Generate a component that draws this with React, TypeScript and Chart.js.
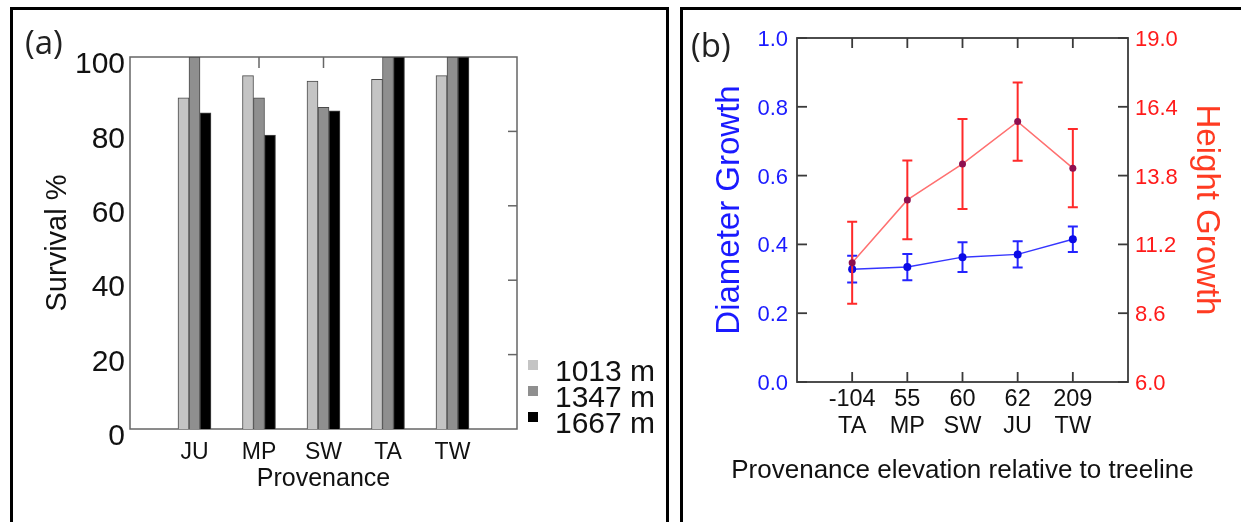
import React, { useEffect, useRef } from "react";
import { Chart, registerables } from "chart.js";
Chart.register(...registerables);

// ---------- Panel (a) data ----------
const provenances = ["JU", "MP", "SW", "TA", "TW"];
const siteLabels = ["1013 m", "1347 m", "1667 m"];
const survival1013 = [89, 95, 93.5, 94, 95];
const survival1347 = [100, 89, 86.5, 100, 100];
const survival1667 = [85, 79, 85.5, 100, 100];
const survivalTicks = [0, 20, 40, 60, 80, 100];

// ---------- Panel (b) data ----------
const elevLabels = ["-104", "55", "60", "62", "209"];
const elevProvenances = ["TA", "MP", "SW", "JU", "TW"];
const diameterGrowth = [0.328, 0.334, 0.363, 0.371, 0.415];
const diameterErr = [0.039, 0.038, 0.043, 0.038, 0.037];
const heightGrowth = [10.51, 12.88, 14.24, 15.84, 14.08];
const heightErr = [1.55, 1.49, 1.7, 1.48, 1.48];
const diameterTicks = [0, 0.2, 0.4, 0.6, 0.8, 1.0];
const heightTicks = [6.0, 8.6, 11.2, 13.8, 16.4, 19.0];

const FONT = "'Liberation Sans', Arial, sans-serif";
const LABEL_FONT = "'Open Sans', 'Liberation Sans', sans-serif";

const pad = (a: any[]) => [null, ...a, null];

const barColors = ["#c4c4c4", "#8f8f8f", "#000000"];

const panelAPlugin = {
  id: "panelA",
  beforeDatasetsDraw(chart: any) {
    const { ctx, chartArea: a, scales } = chart;
    ctx.save();
    ctx.strokeStyle = "#666";
    ctx.lineWidth = 1.5;
    ctx.strokeRect(a.left, a.top, a.right - a.left, a.bottom - a.top);
    // inward ticks on the right axis
    survivalTicks.forEach((v) => {
      if (v === 0 || v === 100) return;
      const y = scales.y.getPixelForValue(v);
      ctx.beginPath();
      ctx.moveTo(a.right, y);
      ctx.lineTo(a.right - 9, y);
      ctx.stroke();
    });
    // inward ticks on the top axis at categories
    provenances.forEach((_, i) => {
      const x = scales.x.getPixelForValue(i + 1);
      ctx.beginPath();
      ctx.moveTo(x, a.top);
      ctx.lineTo(x, a.top + 11);
      ctx.stroke();
    });
    ctx.restore();
  },
  afterDraw(chart: any) {
    const { ctx, chartArea: a } = chart;
    ctx.save();
    chart.data.datasets.forEach((ds: any, i: number) => {
      const cy = a.bottom - 64 + i * 26;
      ctx.fillStyle = ds.backgroundColor;
      ctx.fillRect(a.right + 11, cy - 5, 10, 10);
      ctx.fillStyle = "#111";
      ctx.font = `30px ${FONT}`;
      ctx.textBaseline = "middle";
      ctx.textAlign = "left";
      ctx.fillText(ds.label, a.right + 38, cy + 8);
    });
    ctx.font = `33px ${LABEL_FONT}`;
    ctx.fillStyle = "#222";
    ctx.textBaseline = "alphabetic";
    ctx.fillText("(a)", 11, 43);
    ctx.restore();
  },
};

const errorBarPlugin = {
  id: "errorBars",
  beforeDatasetDraw(chart: any, args: any, opts: any) {
    const spec = opts.sets && opts.sets[args.index];
    if (!spec) return;
    const meta = chart.getDatasetMeta(args.index);
    const yScale = chart.scales[meta.yAxisID];
    const data = chart.data.datasets[args.index].data;
    const ctx = chart.ctx;
    ctx.save();
    ctx.strokeStyle = spec.color;
    ctx.lineWidth = spec.width;
    data.forEach((v: any, j: number) => {
      const e = spec.errors[j];
      if (v == null || e == null) return;
      const x = meta.data[j].x;
      const yt = yScale.getPixelForValue(v + e);
      const yb = yScale.getPixelForValue(v - e);
      ctx.beginPath();
      ctx.moveTo(x, yt);
      ctx.lineTo(x, yb);
      ctx.moveTo(x - 5, yt);
      ctx.lineTo(x + 5, yt);
      ctx.moveTo(x - 5, yb);
      ctx.lineTo(x + 5, yb);
      ctx.stroke();
    });
    ctx.restore();
  },
};

const panelBPlugin = {
  id: "panelB",
  beforeDatasetsDraw(chart: any) {
    const { ctx, chartArea: a, scales } = chart;
    ctx.save();
    ctx.strokeStyle = "#3a3a3a";
    ctx.lineWidth = 1.8;
    ctx.strokeRect(a.left, a.top, a.right - a.left, a.bottom - a.top);
    const L = 10;
    diameterTicks.forEach((v) => {
      const y = scales.y.getPixelForValue(v);
      ctx.beginPath();
      ctx.moveTo(a.left, y);
      ctx.lineTo(a.left + L, y);
      ctx.stroke();
    });
    heightTicks.forEach((v) => {
      const y = scales.y1.getPixelForValue(v);
      ctx.beginPath();
      ctx.moveTo(a.right, y);
      ctx.lineTo(a.right - L, y);
      ctx.stroke();
    });
    elevLabels.forEach((_, i) => {
      const x = scales.x.getPixelForValue(i + 1);
      ctx.beginPath();
      ctx.moveTo(x, a.bottom);
      ctx.lineTo(x, a.bottom - L);
      ctx.moveTo(x, a.top);
      ctx.lineTo(x, a.top + L);
      ctx.stroke();
    });
    ctx.restore();
  },
  afterDraw(chart: any) {
    const { ctx } = chart;
    ctx.save();
    ctx.font = `33px ${LABEL_FONT}`;
    ctx.fillStyle = "#222";
    ctx.textBaseline = "alphabetic";
    ctx.textAlign = "left";
    ctx.fillText("(b)", 7, 46);
    ctx.restore();
  },
};

function SurvivalChart() {
  const ref = useRef<HTMLCanvasElement>(null);
  useEffect(() => {
    const series = [survival1013, survival1347, survival1667];
    const chart = new Chart(ref.current as HTMLCanvasElement, {
      type: "bar",
      data: {
        labels: ["", ...provenances, ""],
        datasets: series.map((s, i) => ({
          label: siteLabels[i],
          data: pad(s),
          backgroundColor: barColors[i],
          borderColor: "#4a4a4a",
          borderWidth: 1,
          barThickness: 11,
        })),
      },
      options: {
        responsive: false,
        animation: false,
        events: [],
        layout: { padding: { left: 0, top: 46, right: 147, bottom: 0 } },
        plugins: { legend: { display: false }, tooltip: { enabled: false } },
        scales: {
          x: {
            type: "category",
            offset: false,
            grid: { display: false, drawTicks: false },
            border: { display: false },
            ticks: {
              autoSkip: false,
              maxRotation: 0,
              minRotation: 0,
              padding: 10,
              color: "#111",
              font: { family: FONT, size: 23 },
            },
            title: {
              display: true,
              text: "Provenance",
              color: "#111",
              font: { family: FONT, size: 25 },
              padding: { top: 0, bottom: 28 },
            },
            afterFit: (s: any) => {
              s.height = 93;
            },
          },
          y: {
            min: 0,
            max: 100,
            afterBuildTicks: (s: any) => {
              s.ticks = survivalTicks.map((v) => ({ value: v }));
            },
            grid: { display: false, drawTicks: false },
            border: { display: false },
            ticks: {
              padding: 5,
              labelOffset: 8,
              color: "#111",
              font: { family: FONT, size: 30 },
            },
            title: {
              display: true,
              text: "Survival %",
              color: "#111",
              font: { family: FONT, size: 29 },
              padding: { top: 27, bottom: 0 },
            },
            afterFit: (s: any) => {
              s.width = 116;
            },
          },
        },
      } as any,
      plugins: [panelAPlugin],
    });
    return () => chart.destroy();
  }, []);
  return (
    <canvas
      ref={ref}
      width={650}
      height={511}
      style={{ position: "absolute", left: 14, top: 11 }}
    />
  );
}

function GrowthChart() {
  const ref = useRef<HTMLCanvasElement>(null);
  useEffect(() => {
    const chart = new Chart(ref.current as HTMLCanvasElement, {
      type: "line",
      data: {
        labels: [
          "",
          ...elevLabels.map((e, i) => [e, elevProvenances[i]]),
          "",
        ],
        datasets: [
          {
            label: "Diameter Growth",
            data: pad(diameterGrowth),
            yAxisID: "y",
            order: 1,
            borderColor: "#3535ff",
            borderWidth: 1.5,
            pointRadius: 4,
            pointBackgroundColor: "#0a0ae6",
            pointBorderColor: "#0a0ae6",
            pointBorderWidth: 0,
            tension: 0,
          },
          {
            label: "Height Growth",
            data: pad(heightGrowth),
            yAxisID: "y1",
            order: 0,
            borderColor: "#ff7070",
            borderWidth: 1.5,
            pointRadius: 3.5,
            pointBackgroundColor: "#8e1050",
            pointBorderColor: "#8e1050",
            pointBorderWidth: 0,
            tension: 0,
          },
        ],
      },
      options: {
        responsive: false,
        animation: false,
        events: [],
        layout: { padding: { left: 0, top: 27, right: 0, bottom: 0 } },
        plugins: {
          legend: { display: false },
          tooltip: { enabled: false },
          title: {
            display: true,
            position: "bottom",
            text: "Provenance elevation relative to treeline",
            color: "#111",
            font: { family: FONT, size: 26, weight: "normal", lineHeight: 1.2 },
            padding: { top: 0, bottom: 35.4 },
          },
          errorBars: {
            sets: [
              { errors: pad(diameterErr), color: "#2424ff", width: 2 },
              { errors: pad(heightErr), color: "#ff2a2a", width: 2 },
            ],
          },
        },
        scales: {
          x: {
            type: "category",
            offset: false,
            grid: { display: false, drawTicks: false },
            border: { display: false },
            ticks: {
              autoSkip: false,
              maxRotation: 0,
              minRotation: 0,
              padding: 4,
              color: "#111",
              font: { family: FONT, size: 23.5, lineHeight: 1.15 },
            },
            afterFit: (s: any) => {
              s.height = 73.4;
            },
          },
          y: {
            position: "left",
            min: 0,
            max: 1,
            afterBuildTicks: (s: any) => {
              s.ticks = diameterTicks.map((v) => ({ value: v }));
            },
            grid: { display: false, drawTicks: false },
            border: { display: false },
            ticks: {
              padding: 9,
              labelOffset: 2,
              color: "#1a1aff",
              font: { family: FONT, size: 22 },
              callback: (v: any) => Number(v).toFixed(1),
            },
            title: {
              display: true,
              text: "Diameter Growth",
              color: "#1a1aff",
              font: { family: FONT, size: 33 },
              padding: { top: 26, bottom: 0 },
            },
            afterFit: (s: any) => {
              s.width = 113;
            },
          },
          y1: {
            position: "right",
            min: 6,
            max: 19,
            afterBuildTicks: (s: any) => {
              s.ticks = heightTicks.map((v) => ({ value: v }));
            },
            grid: { display: false, drawTicks: false },
            border: { display: false },
            ticks: {
              padding: 7,
              labelOffset: 2,
              color: "#ff1a1a",
              font: { family: FONT, size: 22 },
              callback: (v: any) => Number(v).toFixed(1),
            },
            title: {
              display: true,
              text: "Height Growth",
              color: "#ff3b22",
              font: { family: FONT, size: 33 },
              padding: { top: 15, bottom: 0 },
            },
            afterFit: (s: any) => {
              s.width = 113;
            },
          },
        },
      } as any,
      plugins: [errorBarPlugin, panelBPlugin],
    });
    return () => chart.destroy();
  }, []);
  return (
    <canvas
      ref={ref}
      width={557}
      height={511}
      style={{ position: "absolute", left: 684, top: 11 }}
    />
  );
}

export default function App() {
  return (
    <div
      style={{
        position: "fixed",
        left: 0,
        top: 0,
        width: 1241,
        height: 522,
        overflow: "hidden",
        background: "#fff",
      }}
    >
      <div
        style={{
          position: "absolute",
          left: 10,
          top: 7,
          width: 653,
          height: 540,
          border: "3px solid #000",
        }}
      />
      <div
        style={{
          position: "absolute",
          left: 680,
          top: 7,
          width: 600,
          height: 540,
          border: "3px solid #000",
        }}
      />
      <SurvivalChart />
      <GrowthChart />
    </div>
  );
}
